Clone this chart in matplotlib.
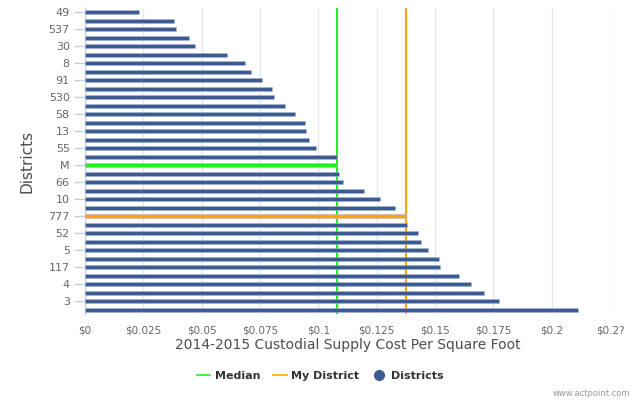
import matplotlib
matplotlib.use("Agg")
import matplotlib.pyplot as plt
from matplotlib.lines import Line2D
import numpy as np

# district labels (only every other one is shown on the axis)
districts = ["49", "", "537", "", "30", "", "8", "", "91", "", "530", "",
             "58", "", "13", "", "55", "", "M", "", "66", "", "10", "",
             "777", "", "52", "", "5", "", "117", "", "4", "", "3", ""]
costs = [0.0231, 0.0383, 0.0389, 0.0447, 0.0470, 0.0607, 0.0686, 0.0713,
         0.0757, 0.0800, 0.0811, 0.0859, 0.0901, 0.0944, 0.0949, 0.0960,
         0.0991, 0.1079, 0.1079, 0.1089, 0.1104, 0.1194, 0.1266, 0.1329,
         0.1376, 0.1379, 0.1427, 0.1439, 0.1469, 0.1516, 0.1520, 0.1603,
         0.1653, 0.1709, 0.1775, 0.2112]
median_value = 0.1082
my_district_value = 0.1376
median_label = "M"
my_district_label = "777"

x_ticks = [0, 0.025, 0.05, 0.075, 0.1, 0.125, 0.15, 0.175, 0.2, 0.225]
x_tick_labels = ["$0", "$0.025", "$0.05", "$0.075", "$0.1", "$0.125",
                 "$0.15", "$0.175", "$0.2", "$0.2?"]

BLUE = "#3b5b93"
GREEN = "#22ee22"
ORANGE = "#ffa500"

fig = plt.figure(figsize=(6.4, 4.0), dpi=100)
ax = fig.add_axes([85 / 640, 1 - 314 / 400, 525 / 640, 306 / 400])

colors = []
for name in districts:
    if name == median_label:
        colors.append(GREEN)
    elif name == my_district_label:
        colors.append(ORANGE)
    else:
        colors.append(BLUE)

y = np.arange(len(districts))
ax.barh(y, costs, height=0.5, color=colors, edgecolor="#a8b8d2",
        linewidth=0.4, zorder=3)

# reference lines drawn behind bars
ax.axvline(median_value, color=GREEN, linewidth=1.5, zorder=2)
ax.axvline(my_district_value, color=ORANGE, linewidth=1.5, zorder=2)

ax.set_xlim(0, 0.225)
ax.set_ylim(len(districts) - 0.5, -0.5)

ax.set_xticks(x_ticks)
ax.set_xticklabels(x_tick_labels, fontsize=7.5, color="#666666")
ax.tick_params(axis="x", length=0, pad=8)
ax.grid(axis="x", color="#e6e6e6", linewidth=1, zorder=0)

shown = [i for i, n in enumerate(districts) if n]
ax.set_yticks(shown)
ax.set_yticklabels([districts[i] for i in shown], fontsize=8, color="#666666")
ax.tick_params(axis="y", length=8, color="#c0d0e0", width=1, pad=3)

for side in ["top", "right", "bottom"]:
    ax.spines[side].set_visible(False)
ax.spines["left"].set_color("#c0d0e0")

ax.set_xlabel("2014-2015 Custodial Supply Cost Per Square Foot",
              fontsize=10, color="#4d4d4d", labelpad=2)
ax.set_ylabel("Districts", fontsize=11, color="#4d4d4d", labelpad=10)

handles = [
    Line2D([], [], color=GREEN, linewidth=1.2),
    Line2D([], [], color=ORANGE, linewidth=1.2),
    Line2D([], [], color=BLUE, marker="o", linestyle="", markersize=7),
]
leg = fig.legend(handles, ["Median", "My District", "Districts"],
                 loc="center", bbox_to_anchor=(0.5, 1 - 376 / 400), ncol=3,
                 frameon=False, handlelength=1.2, handletextpad=0.4,
                 columnspacing=1.2, prop={"weight": "bold", "size": 8})
for t in leg.get_texts():
    t.set_color("#333333")

fig.text(0.985, 1 - 393 / 400, "www.actpoint.com", ha="right", va="center",
         fontsize=6, color="#999999")

fig.savefig("out.png", dpi=100)
